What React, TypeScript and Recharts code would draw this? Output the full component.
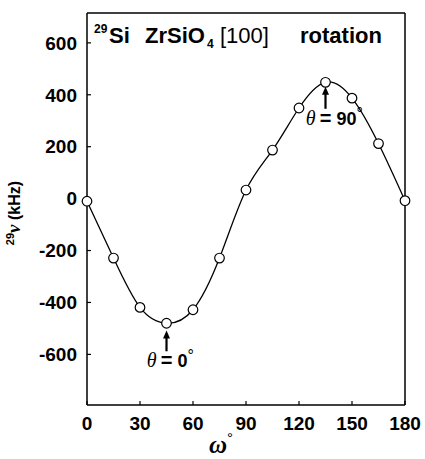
import React from 'react';
import { LineChart, Line, XAxis, YAxis, ReferenceLine } from 'recharts';

// rotation angle (deg) and 29Si shift (kHz)
const omega = [0, 15, 30, 45, 60, 75, 90, 105, 120, 135, 150, 165, 180];
const nu29 = [-10, -229, -419, -480, -428, -229, 33, 187, 349, 448, 387, 212, -8];

const xTicks = [0, 30, 60, 90, 120, 150, 180];
const yTicks = [-600, -400, -200, 0, 200, 400, 600];
const xDomain = [0, 180];
const yDomain = [-795, 715];

// theta markers: where the arrow sits (omega) and its span in kHz
const markerOmega = [135, 45];
const markerFrom = [346, -588];
const markerTo = [431, -508];
const markerTheta = ['90', '0'];

const data = omega.map((w, i) => ({ w, nu: nu29[i] }));

const SANS = '"Liberation Sans", Arial, sans-serif';
const SERIF = '"Liberation Serif", "Times New Roman", serif';

const arrowShape = (theta: string) => (props: any) => {
  const { x1, y1, x2, y2 } = props;
  const top = Math.min(y1, y2);
  const bottom = Math.max(y1, y2);
  return (
    <g>
      <line x1={x1} x2={x2} y1={bottom} y2={top + 6} stroke="#000" strokeWidth={2.2} />
      <path d={`M${x1 - 3.5},${top + 8} L${x1},${top} L${x1 + 3.5},${top + 8} Z`} fill="#000" />
      <text x={x1 - 10} y={bottom + 16} textAnchor="end" fontFamily={SERIF} fontStyle="italic" fontSize={20}>θ</text>
      <text x={x1} y={bottom + 16} textAnchor="middle" fontFamily={SANS} fontWeight="bold" fontSize={20}>=</text>
      <text x={x1 + 11} y={bottom + 16} textAnchor="start" fontFamily={SANS} fontWeight="bold" fontSize={18}>
        {theta}
        <tspan fontSize={16} fontWeight="normal" dy={-6}>°</tspan>
      </text>
    </g>
  );
};

const YLabel = (props: any) => {
  const vb = props.viewBox;
  const x = vb.x + 20;
  const y = vb.y + vb.height / 2 + 4;
  return (
    <text transform={`rotate(-90, ${x}, ${y})`} x={x} y={y} textAnchor="middle" fontFamily={SANS} fontWeight="bold" fontSize={16}>
      <tspan fontSize={11} dy={-6}>29</tspan>
      <tspan fontFamily={SERIF} fontStyle="italic" fontSize={19} dy={6}>ν</tspan>
      <tspan> (kHz)</tspan>
    </text>
  );
};

const XLabel = (props: any) => {
  const vb = props.viewBox;
  const x = vb.x + vb.width / 2 - 25;
  return (
    <text x={x} y={453} textAnchor="middle" fontFamily={SERIF} fontStyle="italic" fontWeight="bold" fontSize={25}>
      ω<tspan fontStyle="normal" fontWeight="normal" fontFamily={SANS} fontSize={15} dy={-10}>°</tspan>
    </text>
  );
};

export default function App() {
  return (
    <div style={{ position: 'absolute', left: 0, top: 0, width: 425, height: 459, background: '#fff' }}>
      <LineChart width={425} height={459} data={data} margin={{ top: 13, right: 20, left: 0, bottom: 0 }}>
        <XAxis
          dataKey="w"
          type="number"
          domain={xDomain}
          ticks={xTicks}
          interval={0}
          height={54}
          tickSize={-4}
          tickMargin={16}
          axisLine={{ stroke: '#000', strokeWidth: 1.5 }}
          tickLine={{ stroke: '#000', strokeWidth: 1.2 }}
          tick={{ fill: '#000', fontSize: 19, fontFamily: SANS, fontWeight: 'bold' }}
          label={<XLabel />}
        />
        <YAxis
          type="number"
          domain={yDomain}
          allowDataOverflow
          ticks={yTicks}
          interval={0}
          width={87}
          tickSize={-4}
          tickMargin={14}
          axisLine={{ stroke: '#000', strokeWidth: 1.5 }}
          tickLine={{ stroke: '#000', strokeWidth: 1.2 }}
          tick={{ fill: '#000', fontSize: 19, fontFamily: SANS, fontWeight: 'bold' }}
          label={<YLabel />}
        />
        <ReferenceLine x={180} stroke="#000" strokeWidth={1.5} />
        <ReferenceLine y={715} stroke="#000" strokeWidth={1.5} />
        {markerOmega.map((w, i) => (
          <ReferenceLine
            key={i}
            segment={[{ x: w, y: markerFrom[i] }, { x: w, y: markerTo[i] }]}
            shape={arrowShape(markerTheta[i])}
          />
        ))}
        <Line
          type="natural"
          dataKey="nu"
          stroke="#000"
          strokeWidth={1.3}
          dot={{ r: 4.8, fill: '#fff', stroke: '#000', strokeWidth: 1.2 }}
          isAnimationActive={false}
        />
      </LineChart>
      <svg width={425} height={459} style={{ position: 'absolute', left: 0, top: 0, pointerEvents: 'none' }}>
        <g fontFamily={SANS} fontWeight="bold" fill="#000">
          <text x={94} y={33} fontSize={12}>29</text>
          <text x={109} y={43} fontSize={22}>Si</text>
          <text x={145} y={43} fontSize={22}>ZrSiO</text>
          <text x={207} y={48} fontSize={12}>4</text>
          <text x={220} y={43} fontSize={22} fontWeight="normal">[100]</text>
          <text x={300} y={43} fontSize={22}>rotation</text>
        </g>
      </svg>
    </div>
  );
}
